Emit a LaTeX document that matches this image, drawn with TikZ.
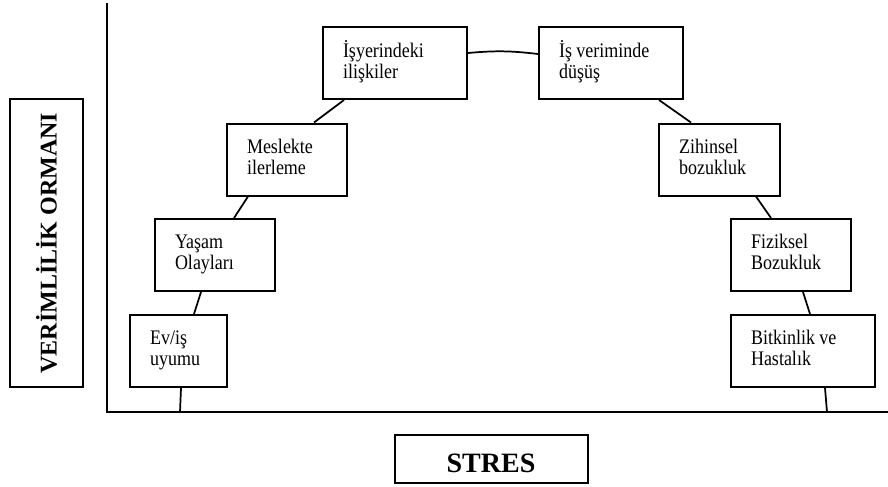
\documentclass[tikz,border=0pt]{standalone}
\usepackage{fontspec}
\usepackage{graphicx}
\setmainfont{Liberation Serif}
\usetikzlibrary{calc}
% two-line stage caption, set a little tall
\newcommand{\stagetext}[2]{\scalebox{1}[1.15]{\fontsize{13.5}{13.7}\selectfont
  \begin{tabular}{@{}l@{}}#1\\#2\end{tabular}}}
\begin{document}
\begin{tikzpicture}[x=0.75pt,y=-0.75pt,
  stage/.style={draw,line width=1.5pt,fill=white,align=left,inner xsep=15pt,inner ysep=0pt,
    minimum height=54pt},
  axisline/.style={line width=1.5pt},
  link/.style={line width=1.3pt},
  titlebox/.style={draw,line width=1.5pt,inner sep=0pt}]
\useasboundingbox (0,0) rectangle (888,486);

% axes
\coordinate (origin) at (107,412);
\coordinate (ytop) at (107,3);
\coordinate (xend) at (888,412);
\draw[axisline] (ytop) -- (origin) -- (xend);

% axis titles
\node[titlebox,rotate=90,minimum width=216pt,minimum height=54.75pt,
  font=\fontsize{18}{20}\selectfont\bfseries] (ylab) at (46.5,243) {VERİMLİLİK ORMANI};
\node[titlebox,minimum width=144.75pt,minimum height=36pt] (xlab) at (491.5,459) {};
\node[anchor=base,inner sep=0pt,font=\fontsize{21}{24}\selectfont\bfseries] (xlabtext) at (491,472) {STRES};

% stages along the curve
\node[stage,text width=42.75pt] (ev)     at (178.5,351)  {\stagetext{Ev/iş}{uyumu}};
\node[stage,text width=60pt]    (yasam)  at (215,255)    {\stagetext{Yaşam}{Olayları}};
\node[stage,text width=60pt]    (meslek) at (287,159.5)  {\stagetext{Meslekte}{ilerleme}};
\node[stage,text width=78pt]    (isyeri) at (395,63)     {\stagetext{İşyerindeki}{ilişkiler}};
\node[stage,text width=78pt]    (isver)  at (611,63)     {\stagetext{İş veriminde}{düşüş}};
\node[stage,text width=60.75pt] (zihin)  at (719.5,159.5){\stagetext{Zihinsel}{bozukluk}};
\node[stage,text width=60pt]    (fizik)  at (791,255)    {\stagetext{Fiziksel}{Bozukluk}};
\node[stage,text width=78pt]    (bitkin) at (803,351)    {\stagetext{Bitkinlik ve}{Hastalık}};

% curve pieces between the stages
\coordinate (e0) at (180,412);
\coordinate (b0) at (827,412);
\draw[link] ($(ev.south west)+(52,0)$) -- (e0);
\draw[link] ($(ev.north west)+(65,0)$) -- ($(yasam.south west)+(47,0)$);
\draw[link] ($(yasam.north west)+(80,0)$) -- ($(meslek.south west)+(22,0)$);
\draw[link] ($(meslek.north west)+(88,0)$) -- ($(isyeri.south west)+(22,0)$);
\draw[link] ($(isyeri.east)+(0,-10)$) to[bend left=6] ($(isver.west)+(0,-9)$);
\draw[link] ($(isver.south west)+(121,0)$) -- ($(zihin.north west)+(33,0)$);
\draw[link] ($(zihin.south west)+(98,0)$) -- ($(fizik.north west)+(41,0)$);
\draw[link] ($(fizik.south west)+(73,0)$) -- ($(bitkin.north west)+(80,0)$);
\draw[link] ($(bitkin.south west)+(95,0)$) -- (b0);
\end{tikzpicture}
\end{document}
